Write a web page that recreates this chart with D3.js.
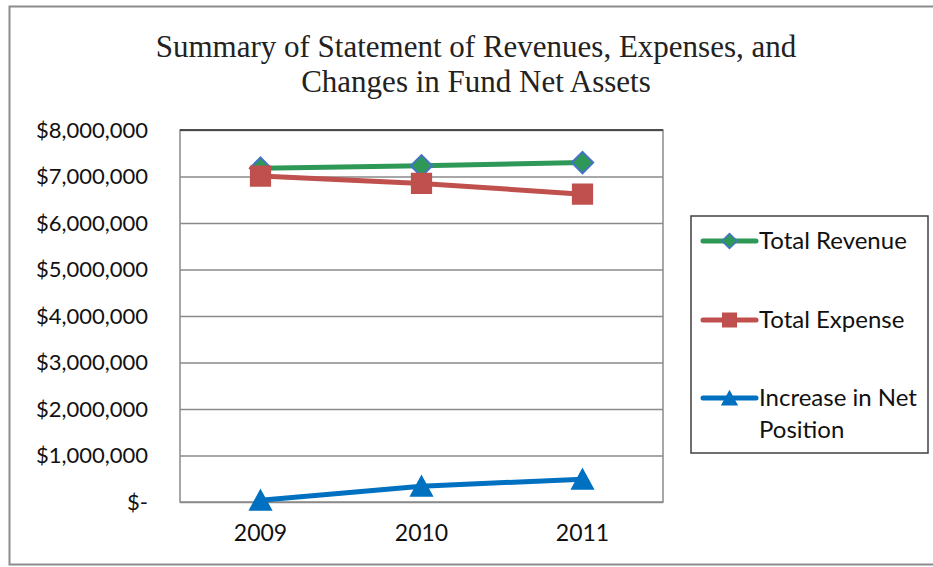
<!DOCTYPE html>
<html>
<head>
<meta charset="utf-8">
<script src="https://cdn.jsdelivr.net/npm/d3@7"></script>
<style>
  body { margin: 0; background: #fff; }
  svg { display: block; }
</style>
</head>
<body>
<svg width="933" height="567"></svg>
<script>
// values
var years = ["2009", "2010", "2011"];
var totalRevenue = [7180000, 7230000, 7300000];
var totalExpense = [7010000, 6850000, 6620000];
var netIncrease = [40000, 340000, 490000];
var yTicks = [0, 1000000, 2000000, 3000000, 4000000, 5000000, 6000000, 7000000, 8000000];
var seriesNames = ["Total Revenue", "Total Expense", "Increase in Net Position"];

var svg = d3.select("svg"),
    margin = {top: 130, left: 180, right: 270, bottom: 65},
    width = 933 - margin.left - margin.right,
    height = 567 - margin.top - margin.bottom;

// excel style triangle, centred halfway between tip and base
var triangle = {
  draw: function(ctx, size) {
    var w = Math.sqrt(size) * 0.6, h = Math.sqrt(size) * 0.55;
    ctx.moveTo(0, -h);
    ctx.lineTo(w, h);
    ctx.lineTo(-w, h);
    ctx.closePath();
  }
};

// chart frame
svg.append("rect")
    .attr("x", 9.5).attr("y", 6.5)
    .attr("width", 940).attr("height", 558)
    .attr("fill", "#fff").attr("stroke", "#8c8c8c").attr("stroke-width", 2);

svg.append("text")
    .attr("x", 476).attr("y", 57)
    .attr("text-anchor", "middle")
    .style("font", "31px 'Liberation Serif'")
    .attr("fill", "#222")
    .text("Summary of Statement of Revenues, Expenses, and");
svg.append("text")
    .attr("x", 476).attr("y", 92)
    .attr("text-anchor", "middle")
    .style("font", "31px 'Liberation Serif'")
    .attr("fill", "#222")
    .text("Changes in Fund Net Assets");

var x = d3.scaleBand().domain(years).range([0, width]),
    y = d3.scaleLinear().domain([0, 8000000]).range([height, 0]);

var g = svg.append("g")
    .attr("transform", "translate(" + margin.left + "," + margin.top + ")");

// gridlines
g.append("g")
    .call(d3.axisLeft(y).tickValues(yTicks).tickSize(-width).tickFormat(""))
    .call(function(a) {
      a.select(".domain").remove();
      a.selectAll("line").attr("stroke", "#8a8a8a").attr("stroke-width", 1.3);
    });

g.append("rect")
    .attr("width", width).attr("height", height)
    .attr("fill", "none").attr("stroke", "#8a8a8a").attr("stroke-width", 1.5);
g.append("line")
    .attr("x1", 0).attr("x2", width)
    .attr("stroke", "#333").attr("stroke-width", 1.5);

// y axis labels
g.append("g")
    .call(d3.axisLeft(y).tickValues(yTicks).tickSize(0).tickPadding(32)
      .tickFormat(function(d) { return d === 0 ? "$-" : "$" + d3.format(",")(d); }))
    .call(function(a) {
      a.select(".domain").remove();
      a.selectAll("text").style("font", "22px Lato").attr("fill", "#111");
    });

// x axis labels
g.append("g")
    .attr("transform", "translate(0," + height + ")")
    .call(d3.axisBottom(x).tickSize(0).tickPadding(23))
    .call(function(a) {
      a.select(".domain").remove();
      a.selectAll("text").style("font", "23px Lato").attr("fill", "#111");
    });

var series = [
  {name: seriesNames[0], values: totalRevenue, color: "#2e9957", fill: "#2e9957", stroke: "#4472c4", symbol: d3.symbolDiamond2, size: 290},
  {name: seriesNames[1], values: totalExpense, color: "#c0504d", fill: "#c0504d", stroke: "#c0504d", symbol: d3.symbolSquare2, size: 470},
  {name: seriesNames[2], values: netIncrease, color: "#0070c0", fill: "#0070c0", stroke: "#0070c0", symbol: triangle, size: 300}
];

var line = d3.line()
    .x(function(d, i) { return x(years[i]) + x.bandwidth() / 2; })
    .y(function(d) { return y(d); });

series.forEach(function(s) {
  g.append("path")
      .attr("d", line(s.values))
      .attr("fill", "none")
      .attr("stroke", s.color)
      .attr("stroke-width", 5);
});

series.forEach(function(s) {
  g.selectAll(null)
    .data(s.values)
    .enter().append("path")
      .attr("transform", function(d, i) { return "translate(" + (x(years[i]) + x.bandwidth() / 2) + "," + y(d) + ")"; })
      .attr("d", d3.symbol().type(s.symbol).size(s.size))
      .attr("fill", s.fill)
      .attr("stroke", s.stroke)
      .attr("stroke-width", 2);
});

// legend
var legend = svg.append("g");
legend.append("rect")
    .attr("x", 691).attr("y", 216)
    .attr("width", 237).attr("height", 237)
    .attr("fill", "#fff").attr("stroke", "#404040").attr("stroke-width", 1.5);

var legendY = [241, 320, 398];
series.forEach(function(s, i) {
  var row = legend.append("g").attr("transform", "translate(0," + legendY[i] + ")");
  row.append("line")
      .attr("x1", 703).attr("x2", 756)
      .attr("stroke", s.color).attr("stroke-width", 5)
      .attr("stroke-linecap", "round");
  row.append("path")
      .attr("transform", "translate(729.5,0)")
      .attr("d", d3.symbol().type(s.symbol).size(s.size * 0.5))
      .attr("fill", s.fill).attr("stroke", s.stroke).attr("stroke-width", 1.5);
  var t = row.append("text")
      .attr("x", 759).attr("dy", "0.35em")
      .style("font", "24px Lato").attr("fill", "#111");
  if (i === 2) {
    t.append("tspan").attr("x", 759).text("Increase in Net");
    t.append("tspan").attr("x", 759).attr("dy", "1.3em").text("Position");
  } else {
    t.text(s.name);
  }
});
</script>
</body>
</html>
